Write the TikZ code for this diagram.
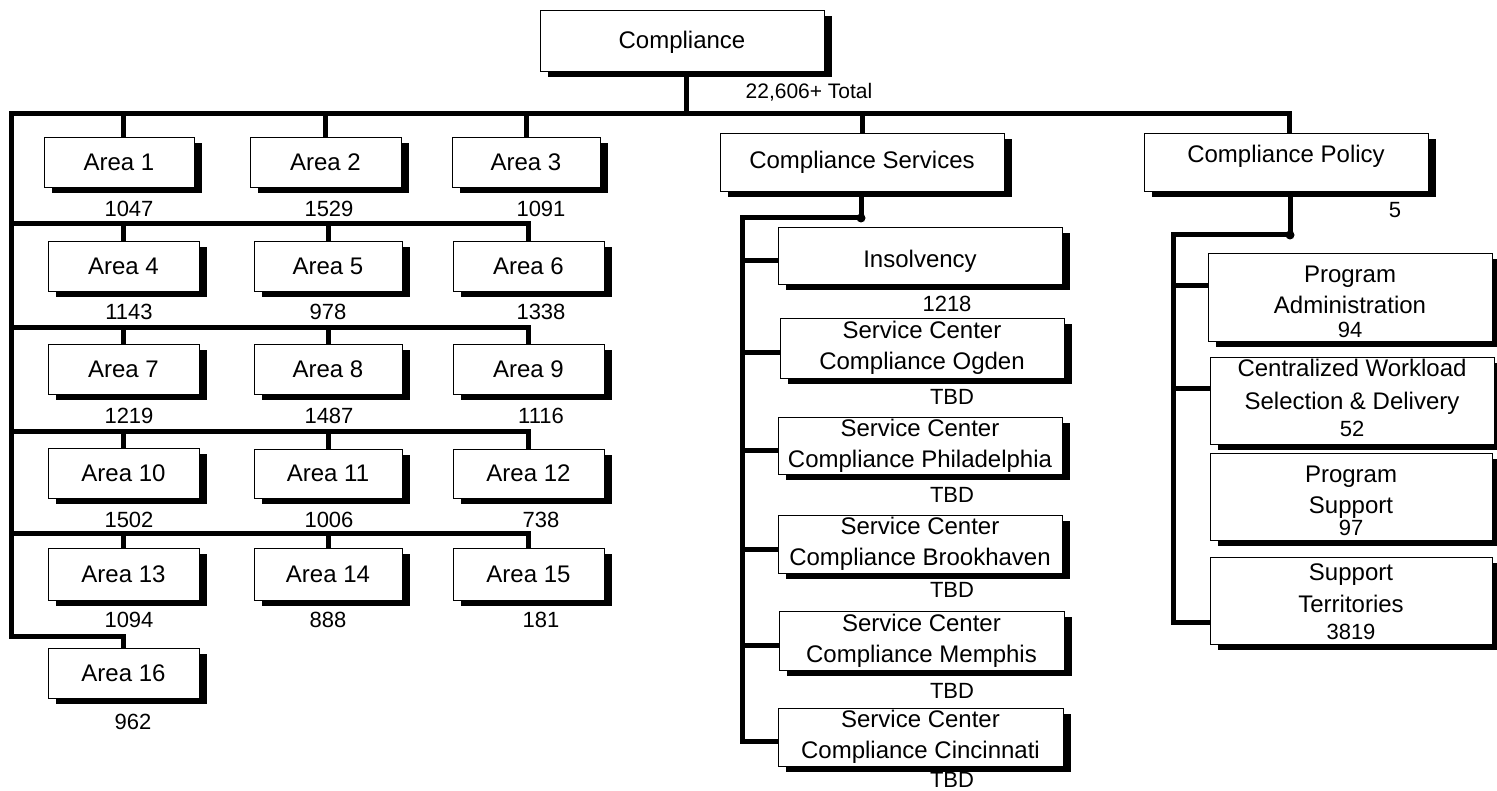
\documentclass[tikz,border=0pt]{standalone}
\usepackage{fontspec}
\setmainfont{Liberation Sans}
\usetikzlibrary{shadows}
\tikzset{
  box/.style={draw=black, line width=0.9pt, fill=white, inner sep=0pt, align=center,
    font=\fontsize{24}{31}\selectfont,
    drop shadow={shadow xshift=8pt, shadow yshift=-6pt, fill=black, opacity=1, draw=none}},
  conn/.style={line width=5pt, draw=black},
  numf/.style={font=\fontsize{22}{26}\selectfont, inner sep=0pt, anchor=base},
  dotj/.style={fill=black}
}
\newcommand{\orgbox}[7][]{\node[box,#1,minimum width={(#5-#3)*1pt},minimum height={(#6-#4)*1pt}] (#2) at ({(#3+#5)/2},{(#4+#6)/2}) {#7};}
\newcommand{\numlab}[4]{\node[numf] (#1) at (#2,#3) {#4};}
\newcommand{\innum}[1]{{\fontsize{22}{26}\selectfont #1}}
\begin{document}
\begin{tikzpicture}[x=1pt,y=-1pt]
\useasboundingbox (0,0) rectangle (1497,791);
% boxes
\orgbox[text height=21pt]{comp}{540}{10}{824}{71}{Compliance}
\orgbox{a1}{44}{137}{194}{187}{Area 1}
\orgbox{a2}{250}{137}{401}{187}{Area 2}
\orgbox{a3}{452}{137}{600}{187}{Area 3}
\orgbox{a4}{48}{241}{199}{291}{Area 4}
\orgbox{a5}{254}{241}{402}{291}{Area 5}
\orgbox{a6}{453}{241}{604}{291}{Area 6}
\orgbox{a7}{48}{344}{199}{394}{Area 7}
\orgbox{a8}{254}{344}{402}{394}{Area 8}
\orgbox{a9}{453}{344}{604}{394}{Area 9}
\orgbox{a10}{48}{448}{199}{498}{Area 10}
\orgbox{a11}{254}{449}{402}{498}{Area 11}
\orgbox{a12}{453}{449}{604}{498}{Area 12}
\orgbox{a13}{48}{548}{199}{600}{Area 13}
\orgbox{a14}{254}{548}{402}{600}{Area 14}
\orgbox{a15}{453}{548}{604}{600}{Area 15}
\orgbox{a16}{48}{648}{199}{698}{Area 16}
\orgbox{cs}{720}{133}{1004}{191}{Compliance Services}
\orgbox[text depth=16pt]{pol}{1144}{133}{1428}{191}{Compliance Policy}
\orgbox[text height=28pt]{ins}{778}{227}{1062}{284}{Insolvency}
\orgbox{ogd}{780}{318}{1064}{378}{Service Center\\Compliance Ogden}
\orgbox{phi}{778}{417}{1062}{474}{Service Center\\Compliance Philadelphia}
\orgbox{bro}{778}{515}{1062}{573}{Service Center\\Compliance Brookhaven}
\orgbox{mem}{779}{611}{1064}{670}{Service Center\\Compliance Memphis}
\orgbox{cin}{778}{708}{1063}{766}{Service Center\\Compliance Cincinnati}
\orgbox{pa}{1208}{253}{1492}{341}{\rule{0pt}{30pt}Program\\Administration\\[-7pt]\innum{94\rule[-3pt]{0pt}{3pt}}}
\orgbox{cw}{1210}{357}{1494}{444}{\rule{0pt}{19pt}Centralized Workload\\[2pt]Selection \& Delivery\\[-3pt]\innum{52\rule[-7pt]{0pt}{7pt}}}
\orgbox{ps}{1210}{453}{1492}{540}{\rule{0pt}{29pt}Program\\Support\\[-9pt]\innum{97\rule[-5pt]{0pt}{5pt}}}
\orgbox{st}{1210}{557}{1492}{644}{\rule{0pt}{23pt}Support\\[1pt]Territories\\[-4pt]\innum{3819\rule[-5pt]{0pt}{5pt}}}
% junction points
\coordinate (tl) at (11,114);
\coordinate (tr) at (1289,114);
\coordinate (jc) at (686,114);
\coordinate (r2) at (11,224);
\coordinate (r3) at (11,328);
\coordinate (r4) at (11,432);
\coordinate (r5) at (11,533);
\coordinate (r6) at (11,636);
\coordinate (sj) at (861,218);
\coordinate (sx) at (742,218);
\coordinate (pj) at (1290,235);
\coordinate (px) at (1173,235);
% connectors
\draw[conn] (comp.south -| jc) -- (jc);
\draw[conn] (pol.north -| tr) -- (tr) -- (tl) -- (r6) -| (a16.north);
\draw[conn] (cs.north) -- (cs.north |- tl);
\draw[conn] ([xshift=4pt]a1.north) -- ([xshift=4pt]a1.north |- tl);
\draw[conn] (a2.north) -- (a2.north |- tl);
\draw[conn] (a3.north) -- (a3.north |- tl);
\draw[conn] (r2) -| (a6.north);
\draw[conn] (a4.north) -- (a4.north |- r2);
\draw[conn] (a5.north) -- (a5.north |- r2);
\draw[conn] (r3) -| (a9.north);
\draw[conn] (a7.north) -- (a7.north |- r3);
\draw[conn] (a8.north) -- (a8.north |- r3);
\draw[conn] (r4) -| (a12.north);
\draw[conn] (a10.north) -- (a10.north |- r4);
\draw[conn] (a11.north) -- (a11.north |- r4);
\draw[conn] (r5) -| (a15.north);
\draw[conn] (a13.north) -- (a13.north |- r5);
\draw[conn] (a14.north) -- (a14.north |- r5);
% compliance services
\draw[conn] (cs.south -| sj) -- (sj) -- (sx) |- ([yshift=-4pt]cin.west);
\fill[dotj] (sj) circle[radius=4.5pt];
\foreach \n in {ins,ogd,phi,bro,mem}
  \draw[conn] ([yshift=-5pt]\n.west) -- ([yshift=-5pt]\n.west -| sx);
% compliance policy
\draw[conn] (pol.south -| pj) -- (pj) -- (px) |- ([yshift=-22pt]st.west);
\fill[dotj] (pj) circle[radius=4.5pt];
\draw[conn] ([yshift=11pt]pa.west) -- ([yshift=11pt]pa.west -| px);
\draw[conn] ([yshift=12pt]cw.west) -- ([yshift=12pt]cw.west -| px);
% labels
\node[font=\fontsize{21}{25}\selectfont, inner sep=0pt, anchor=base] (tot) at (809,99) {22,606+ Total};
\numlab{n5}{1395}{218}{5}
\numlab{l1}{129}{217}{1047}
\numlab{l2}{329}{217}{1529}
\numlab{l3}{541}{217}{1091}
\numlab{l4}{129}{320}{1143}
\numlab{l5}{328}{320}{978}
\numlab{l6}{541}{320}{1338}
\numlab{l7}{129}{424}{1219}
\numlab{l8}{329}{424}{1487}
\numlab{l9}{541}{424}{1116}
\numlab{l10}{129}{527}{1502}
\numlab{l11}{329}{527}{1006}
\numlab{l12}{541}{527}{738}
\numlab{l13}{129}{627}{1094}
\numlab{l14}{328}{627}{888}
\numlab{l15}{541}{627}{181}
\numlab{l16}{133}{729}{962}
\numlab{lins}{947}{312}{1218}
\numlab{logd}{952}{405}{TBD}
\numlab{lphi}{952}{502}{TBD}
\numlab{lbro}{952}{597}{TBD}
\numlab{lmem}{952}{698}{TBD}
\numlab{lcin}{952}{787}{TBD}
\end{tikzpicture}
\end{document}
